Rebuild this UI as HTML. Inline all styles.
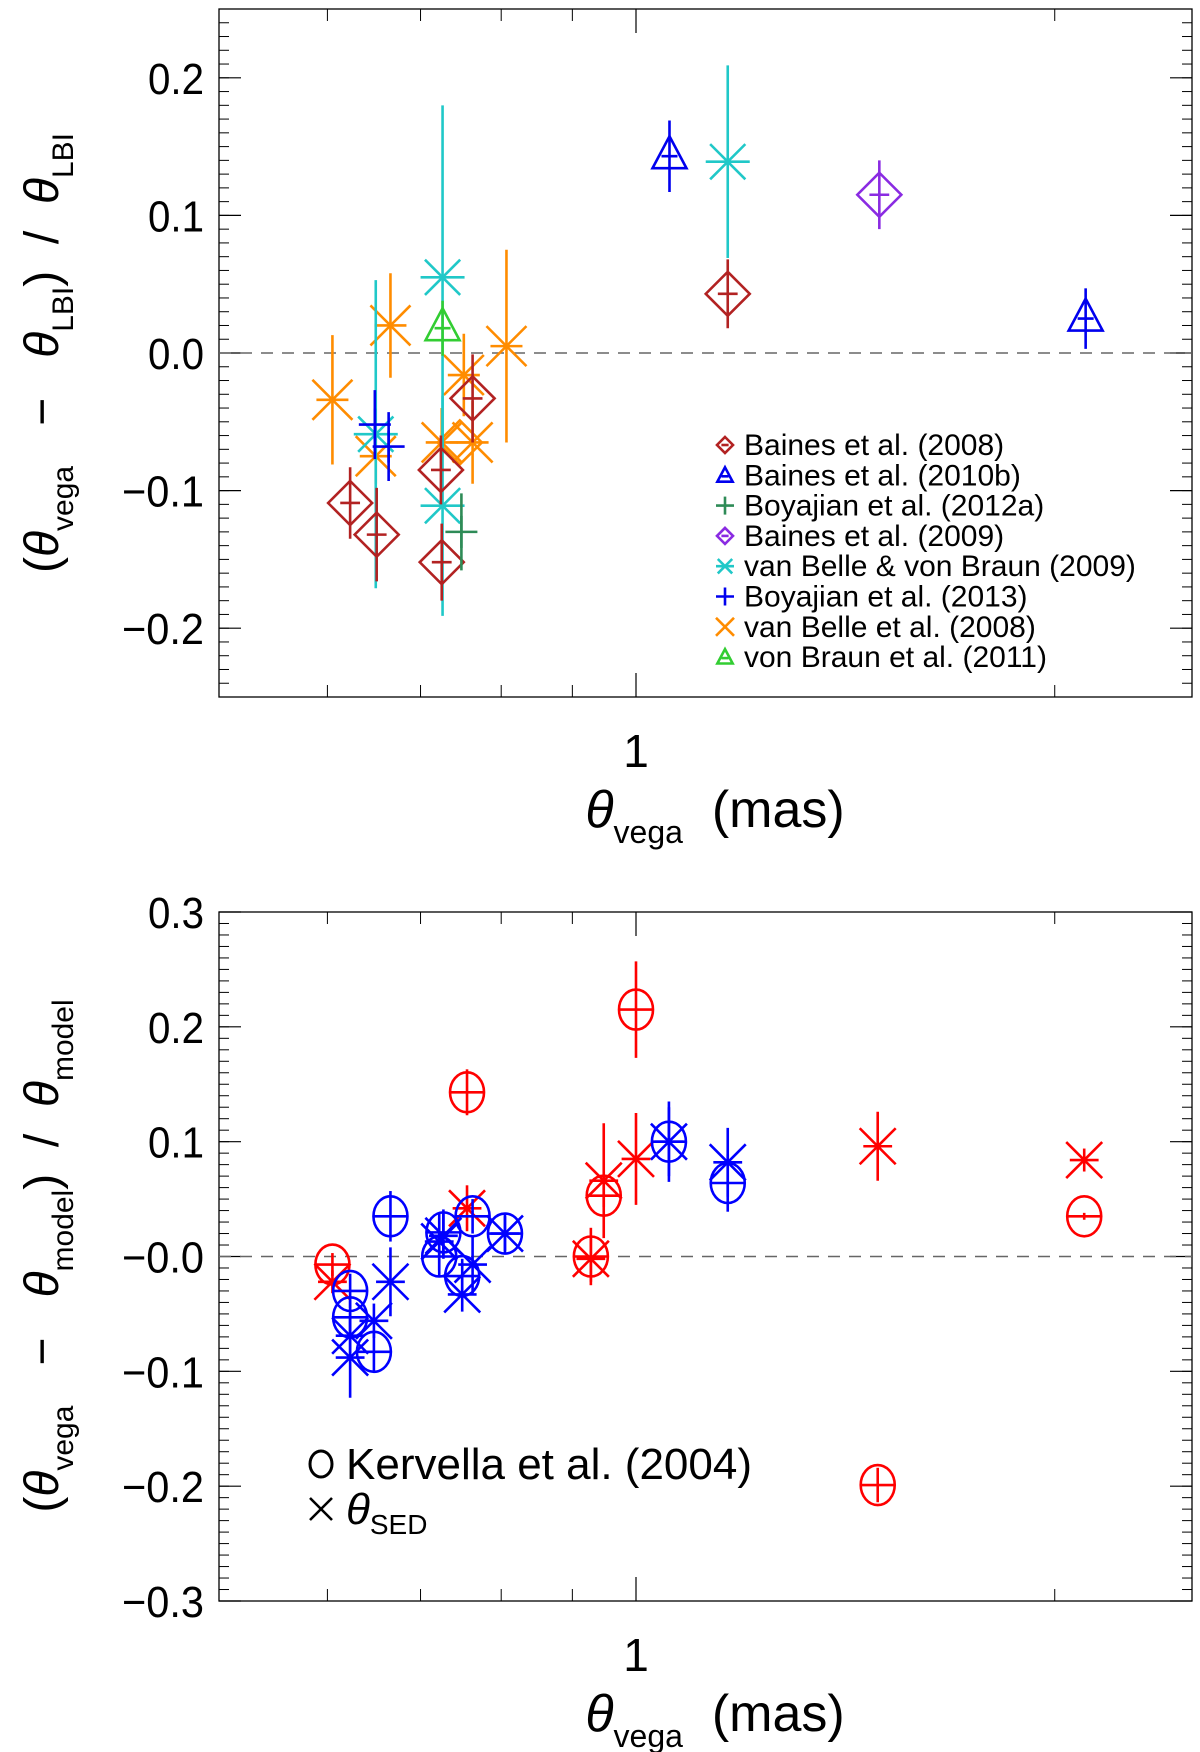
<!DOCTYPE html>
<html><head><meta charset="utf-8"><style>
html,body{margin:0;padding:0;background:#fff}
svg{display:block}
text{font-family:"Liberation Sans","DejaVu Sans",sans-serif;fill:#000}
</style></head><body>
<svg id="fig" width="1200" height="1752" viewBox="0 0 1200 1752" xmlns="http://www.w3.org/2000/svg">
<g id="p1"></g>
<g id="p2"></g>
</svg>
<script>
// ---------- data: top panel ----------
const b08X=[0.623,0.651,0.724,0.725,0.763,1.164];
const b08Y=[-0.109,-0.132,-0.085,-0.152,-0.033,0.043];
const b08E=[0.026,0.034,0.025,0.028,0.032,0.025];
const b10X=[1.057,2.105];
const b10Y=[0.143,0.025];
const b10E=[0.026,0.022];
const by12X=[0.749];
const by12Y=[-0.130];
const by12E=[0.028];
const b09X=[1.496];
const b09Y=[0.115];
const b09E=[0.025];
const vbvbX=[0.726,0.650,0.726,1.164];
const vbvbY=[0.055,-0.059,-0.111,0.139];
const vbvbE=[0.125,0.112,0.080,0.070];
const by13X=[0.649,0.664];
const by13Y=[-0.052,-0.068];
const by13E=[0.025,0.025];
const vb08X=[0.605,0.666,0.650,0.725,0.752,0.763,0.807];
const vb08Y=[-0.034,0.020,-0.075,-0.065,-0.016,-0.065,0.005];
const vb08E=[0.047,0.038,0.020,0.025,0.030,0.030,0.070];
const vb08dX=[0.747];
const vb08dY=[-0.065];
const vbr11X=[0.726];
const vbr11Y=[0.018];
const vbr11E=[0.020];
const legendLabels=["Baines et al. (2008)","Baines et al. (2010b)","Boyajian et al. (2012a)","Baines et al. (2009)","van Belle & von Braun (2009)","Boyajian et al. (2013)","van Belle et al. (2008)","von Braun et al. (2011)"];
const yTicks1=[-0.2,-0.1,0.0,0.1,0.2];
const yTickLabels1=["\u22120.2","\u22120.1","0.0","0.1","0.2"];
// ---------- data: bottom panel ----------
const rcX=[0.605,0.756,1.000,0.928,0.948,1.492,2.100];
const rcY=[-0.007,0.143,0.215,0.000,0.053,-0.199,0.035];
const rcE=[0.010,0.020,0.042,0.025,0.010,0.015,0.003];
const rxX=[0.605,0.756,0.928,0.948,1.000,1.492,2.100];
const rxY=[-0.022,0.042,-0.002,0.066,0.085,0.096,0.084];
const rxE=[0.010,0.020,0.020,0.050,0.040,0.030,0.010];
const bcX=[0.623,0.623,0.648,0.666,0.722,0.727,0.750,0.763,0.805,1.056,1.164];
const bcY=[-0.030,-0.053,-0.083,0.035,0.000,0.021,-0.017,0.035,0.020,0.100,0.064];
const bcE=[0.015,0.015,0.018,0.022,0.018,0.020,0.015,0.015,0.018,0.035,0.025];
const bxX=[0.623,0.623,0.648,0.666,0.722,0.727,0.750,0.763,0.805,1.056,1.164];
const bxY=[-0.088,-0.069,-0.056,-0.022,0.013,0.018,-0.033,-0.007,0.020,0.100,0.082];
const bxE=[0.035,0.020,0.015,0.030,0.025,0.020,0.015,0.025,0.015,0.030,0.030];
const yTicks2=[-0.3,-0.2,-0.1,0.0,0.1,0.2,0.3];
const yTickLabels2=["\u22120.3","\u22120.2","\u22120.1","\u22120.0","0.1","0.2","0.3"];
const xMinor=[0.6,0.7,0.8,0.9,2];

const NS="http://www.w3.org/2000/svg";
function mk(parent,tag,attrs){const e=document.createElementNS(NS,tag);for(const k in attrs)e.setAttribute(k,attrs[k]);parent.appendChild(e);return e;}
const L=219,R=1192;
function xs(v){return 636+1391*Math.log10(v);}

function axes(g,top,bot,ymin,ymax,yT,yTL,minorStep){
  const ys=v=>bot-(v-ymin)/(ymax-ymin)*(bot-top);
  const fr=mk(g,'rect',{x:L,y:top,width:R-L,height:bot-top,fill:'none',stroke:'#000','stroke-width':1.3});
  
  
  for(let v=ymin;v<=ymax+1e-9;v+=minorStep){
    const y=ys(v);
    mk(g,'line',{x1:L,x2:L+10,y1:y,y2:y,stroke:'#000','stroke-width':1});
    mk(g,'line',{x1:R,x2:R-10,y1:y,y2:y,stroke:'#000','stroke-width':1});
  }
  yT.forEach((v,i)=>{
    const y=ys(v);
    mk(g,'line',{x1:L,x2:L+22,y1:y,y2:y,stroke:'#000','stroke-width':1.2});
    mk(g,'line',{x1:R,x2:R-22,y1:y,y2:y,stroke:'#000','stroke-width':1.2});
    const t=mk(g,'text',{x:204,y:y+16,'text-anchor':'end','font-size':44,textLength:(yTL[i].length>3?82:56),lengthAdjust:'spacingAndGlyphs'});
    t.textContent=yTL[i];
    
    
  });
  xMinor.forEach(v=>{const x=xs(v);
    mk(g,'line',{x1:x,x2:x,y1:bot,y2:bot-12,stroke:'#000','stroke-width':1});
    mk(g,'line',{x1:x,x2:x,y1:top,y2:top+12,stroke:'#000','stroke-width':1});});
  const x1=xs(1);
  mk(g,'line',{x1:x1,x2:x1,y1:bot,y2:bot-24,stroke:'#000','stroke-width':1.2});
  mk(g,'line',{x1:x1,x2:x1,y1:top,y2:top+24,stroke:'#000','stroke-width':1.2});
  const t1=mk(g,'text',{x:x1,y:bot+70,'text-anchor':'middle','font-size':46});
  t1.textContent='1';
  
  
  const z=mk(g,'line',{x1:L,x2:R,y1:ys(0),y2:ys(0),stroke:'#666','stroke-width':1.5,'stroke-dasharray':'12,9'});
  
  
  const xt=mk(g,'text',{x:715,y:bot+130,'text-anchor':'middle','font-size':52});
  xt.innerHTML='<tspan font-style="italic">θ</tspan><tspan font-size="32" dy="16">vega</tspan><tspan dy="-16" xml:space="preserve">  (mas)</tspan>';
  
  
  return ys;
}

function errbar(g,x,y1,y2,c){mk(g,'line',{x1:x,x2:x,y1:y1,y2:y2,stroke:c,'stroke-width':2.6});}
function sym(g,type,cx,cy,c,s){
  const a={fill:'none',stroke:c,'stroke-width':2.6};
  if(type==='d'){mk(g,'polygon',Object.assign({points:`${cx},${cy-s} ${cx+s},${cy} ${cx},${cy+s} ${cx-s},${cy}`},a));mk(g,'line',Object.assign({x1:cx-s*0.45,x2:cx+s*0.45,y1:cy,y2:cy},a));}
  else if(type==='t'){mk(g,'polygon',Object.assign({points:`${cx},${cy-s} ${cx+s*0.85},${cy+s*0.6} ${cx-s*0.85},${cy+s*0.6}`},a));mk(g,'line',Object.assign({x1:cx-s*0.4,x2:cx+s*0.4,y1:cy,y2:cy},a));}
  else if(type==='p'){mk(g,'line',Object.assign({x1:cx-s,x2:cx+s,y1:cy,y2:cy},a));mk(g,'line',Object.assign({x1:cx,x2:cx,y1:cy-s,y2:cy+s},a));}
  else if(type==='x'){mk(g,'line',Object.assign({x1:cx-s,x2:cx+s,y1:cy-s,y2:cy+s},a));mk(g,'line',Object.assign({x1:cx-s,x2:cx+s,y1:cy+s,y2:cy-s},a));}
  else if(type==='xh'){sym(g,'x',cx,cy,c,s);mk(g,'line',Object.assign({x1:cx-s*0.8,x2:cx+s*0.8,y1:cy,y2:cy},a));}
  else if(type==='a'){sym(g,'x',cx,cy,c,s*0.8);mk(g,'line',Object.assign({x1:cx-s,x2:cx+s,y1:cy,y2:cy},a));}
  else if(type==='o'){mk(g,'ellipse',Object.assign({cx:cx,cy:cy,rx:s*0.85,ry:s},a));mk(g,'line',Object.assign({x1:cx-s*0.85,x2:cx+s*0.85,y1:cy,y2:cy},a));}
}
function series(g,name,X,Y,E,type,c,s,ys){
  const sg=mk(g,'g',{});
  
  
  X.forEach((xv,i)=>{
    const cx=xs(xv),cy=ys(Y[i]);
    const pg=mk(sg,'g',{});
    
    
    if(E) errbar(pg,cx,ys(Y[i]+E[i]),ys(Y[i]-E[i]),c);
    sym(pg,type,cx,cy,c,s);
  });
}

// top panel
const g1=document.getElementById('p1');
const ys1=axes(g1,9,697,-0.25,0.25,yTicks1,yTickLabels1,0.01);
series(g1,'van-belle-2008-series',vb08X,vb08Y,vb08E,'xh','#ff8c00',20,ys1);
series(g1,'van-belle-2008-diamond',vb08dX,vb08dY,null,'d','#ff8c00',22,ys1);
series(g1,'van-belle-von-braun-2009-series',vbvbX,vbvbY,vbvbE,'a','#20c8c8',22,ys1);
series(g1,'baines-2008-series',b08X,b08Y,b08E,'d','#b22222',22,ys1);
series(g1,'baines-2010b-series',b10X,b10Y,b10E,'t','#0000ee',20,ys1);
series(g1,'boyajian-2012a-series',by12X,by12Y,by12E,'p','#2e8b57',16,ys1);
series(g1,'baines-2009-series',b09X,b09Y,b09E,'d','#8a2be2',22,ys1);
series(g1,'boyajian-2013-series',by13X,by13Y,by13E,'p','#0000ee',16,ys1);
series(g1,'von-braun-2011-series',vbr11X,vbr11Y,vbr11E,'t','#32cd32',20,ys1);
const legTypes=['d','t','p','d','a','p','x','t'];
const legCols=['#b22222','#0000ee','#2e8b57','#8a2be2','#20c8c8','#0000ee','#ff8c00','#32cd32'];
legendLabels.forEach((lab,i)=>{
  const y=445+i*30.3;
  const lg=mk(g1,'g',{});
  
  
  sym(lg,legTypes[i],725,y+(legTypes[i]==='t'?1:0),legCols[i],legTypes[i]==='d'?8:9);
  const t=mk(lg,'text',{x:744,y:y+10,'font-size':30});
  t.textContent=lab;
});
const yt1=mk(g1,'text',{transform:'translate(58,353) rotate(-90)','text-anchor':'middle','font-size':48});
yt1.innerHTML='<tspan xml:space="preserve">(</tspan><tspan font-style="italic">θ</tspan><tspan font-size="30" dy="15">vega</tspan><tspan dy="-15" xml:space="preserve">   −   </tspan><tspan font-style="italic">θ</tspan><tspan font-size="30" dy="15">LBI</tspan><tspan dy="-15" xml:space="preserve">)  /  </tspan><tspan font-style="italic">θ</tspan><tspan font-size="30" dy="15">LBI</tspan>';



// bottom panel
const g2=document.getElementById('p2');
const ys2=axes(g2,912,1601,-0.3,0.3,yTicks2,yTickLabels2,0.01);
series(g2,'red-kervella-series',rcX,rcY,rcE,'o','#ff0000',20,ys2);
series(g2,'red-sed-series',rxX,rxY,rxE,'xh','#ff0000',18,ys2);
series(g2,'blue-kervella-series',bcX,bcY,bcE,'o','#0000ff',20,ys2);
series(g2,'blue-sed-series',bxX,bxY,bxE,'xh','#0000ff',18,ys2);
const lg1=mk(g2,'g',{});


mk(lg1,'ellipse',{cx:321,cy:1464,rx:11,ry:13,fill:'none',stroke:'#000','stroke-width':3});
const lt1=mk(lg1,'text',{x:346,y:1479,'font-size':44});lt1.textContent='Kervella et al. (2004)';
const lg2=mk(g2,'g',{});


sym(lg2,'x',321,1509,'#000',11);
const lt2=mk(lg2,'text',{x:346,y:1524,'font-size':44});
lt2.innerHTML='<tspan font-style="italic">θ</tspan><tspan font-size="28" dy="10">SED</tspan>';
const yt2=mk(g2,'text',{transform:'translate(58,1256) rotate(-90)','text-anchor':'middle','font-size':48});
yt2.innerHTML='<tspan xml:space="preserve">(</tspan><tspan font-style="italic">θ</tspan><tspan font-size="30" dy="15">vega</tspan><tspan dy="-15" xml:space="preserve">   −   </tspan><tspan font-style="italic">θ</tspan><tspan font-size="30" dy="15">model</tspan><tspan dy="-15" xml:space="preserve">)  /  </tspan><tspan font-style="italic">θ</tspan><tspan font-size="30" dy="15">model</tspan>';


</script>
</body></html>
